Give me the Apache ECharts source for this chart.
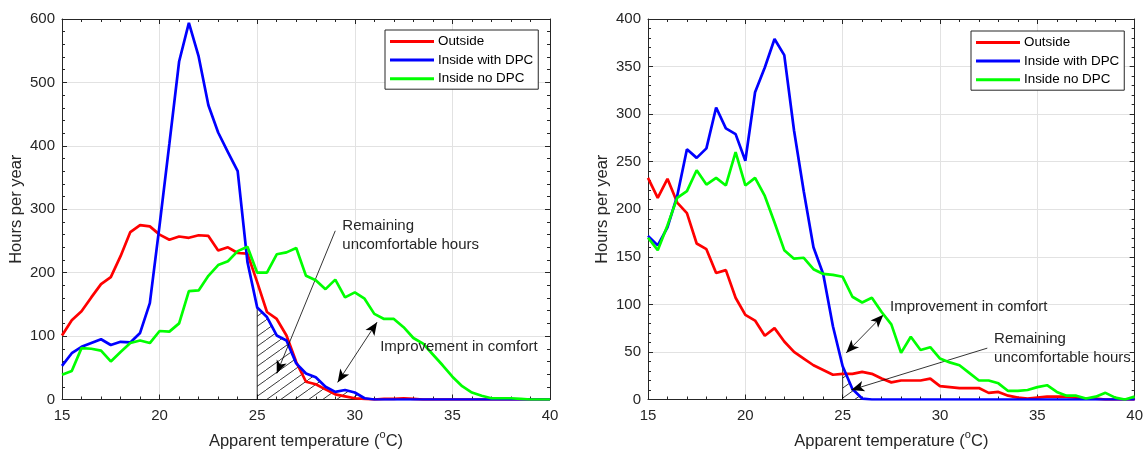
<!DOCTYPE html>
<html><head><meta charset="utf-8">
<script src="https://cdn.jsdelivr.net/npm/echarts@6/dist/echarts.min.js"></script>
<style>html,body{margin:0;padding:0;background:#fff}#c{width:1146px;height:455px}</style>
</head><body><div id="c"></div>
<script>
const temps = [15,15.5,16,16.5,17,17.5,18,18.5,19,19.5,20,20.5,21,21.5,22,22.5,23,23.5,24,24.5,25,25.5,26,26.5,27,27.5,28,28.5,29,29.5,30,30.5,31,31.5,32,32.5,33,33.5,34,34.5,35,35.5,36,36.5,37,37.5,38,38.5,39,39.5,40];

// Left panel
const leftOutside = [101,125,139,161,182,193,226,264,275,273,260,252,257,255,259,258,235,240,231,230,
  185,138,127,101,59,28,24,16,8,5,2,1,
  0,1,1,2,1,0,0,0,0,0,0,0,0,0,0,0,0,0,0];
const leftWithDPC = [53,73,83,89,95,86,91,90,105,152,275,403,533,594,541,464,421,390,360,217,
  145,130,101,93,57,41,35,20,12,15,11,2,
  0,0,0,0,0,0,0,0,0,0,0,0,0,0,0,0,0,0,0];
const leftNoDPC = [39,45,81,80,77,60,75,89,93,89,108,107,120,171,172,195,212,218,234,241,
  200,200,229,232,239,195,188,174,189,161,169,159,135,127,127,114,97,88,71,54,
  36,21,11,6,2,2,2,1,0,0,0];

// Right panel
const rightOutside = [233,212,232,207,196,164,158,133,136,107,89,83,67,75,61,50,43,36,31,26,
  27,27,29,27,22,18,20,20,20,22,14,13,12,12,12,7,8,4,2,1,
  2,3,3,3,2,1,1,0,0,0,0];
const rightWithDPC = [172,162,181,214,263,254,264,307,285,279,251,323,349,379,362,283,219,160,132,77,
  35,11,1,0,0,0,0,0,0,0,0,0,0,0,0,0,0,0,0,0,0,0,0,0,0,0,0,0,0,0,0];
const rightNoDPC = [170,157,183,212,219,241,226,233,225,260,225,233,214,186,157,148,149,137,132,131,
  129,108,102,107,92,79,49,66,52,55,43,39,36,28,20,20,17,9,9,10,
  13,15,8,4,4,1,3,7,2,0,3];

const xTicks = [15,20,25,30,35,40];
const leftYMax = 600, leftYStep = 100;
const rightYMax = 400, rightYStep = 50;
const names = ['Outside','Inside with DPC','Inside no DPC'];
const colors = ['#ff0000','#0000ff','#00ff00'];
const comfortLimit = 25;

// annotations (data coordinates)
const leftRemainingArrow = [[29.0,266],[26.0,41]];
const leftImproveArrow = [[31.14,122],[29.12,27]];
const rightImproveArrow = [[27.09,89],[25.18,49]];
const rightRemainingArrow = [[32.43,54],[25.44,10]];
const leftRemainingText = [29.36,259];
const leftImproveText = [31.3,83];
const rightImproveText = [27.43,97.7];
const rightRemainingText = [32.78,53.5];

const FONT = '"Liberation Sans", Arial, Helvetica, sans-serif';
const TXT = '#262626';

function pairs(vals){ return temps.map((t,i)=>[t, vals[i]]); }
function hatchData(vals){
  const out = [[comfortLimit,0]];
  let last = -1;
  temps.forEach((t,i)=>{ if(t>=comfortLimit){ if(last!==0) out.push([t, vals[i]]); last = vals[i]; } });
  out.push([out[out.length-1][0],0]);
  return out;
}

// hatch pattern
const pc = document.createElement('canvas');
pc.width = 14; pc.height = 10;
const g = pc.getContext('2d');
g.strokeStyle = '#222'; g.lineWidth = 0.9;
g.beginPath(); g.moveTo(-1.4,11); g.lineTo(15.4,-1); g.stroke();

function xAxes(gi){
  const base = {type:'value', gridIndex:gi, min:15, max:40, interval:5,
    axisLine:{show:true, onZero:false, lineStyle:{color:TXT, width:1}},
    axisTick:{show:true, inside:true, length:5, lineStyle:{color:TXT}},
    minorTick:{show:true, splitNumber:5, length:3, lineStyle:{color:TXT}}};
  return [
    Object.assign({}, base, {position:'bottom',
      axisLabel:{show:true, margin:9, fontSize:15, color:TXT, fontFamily:FONT},
      splitLine:{show:true, lineStyle:{color:'#e2e2e2', width:1}},
      name:'{n|Apparent temperature (}{s|o}{n|C)}', nameLocation:'middle', nameGap:30,
      nameTextStyle:{rich:{n:{fontSize:16.5, color:TXT, fontFamily:FONT, lineHeight:24, verticalAlign:'middle'},
        s:{fontSize:11, color:TXT, fontFamily:FONT, verticalAlign:'top', lineHeight:10}}}}),
    Object.assign({}, base, {position:'top', axisLabel:{show:false}, splitLine:{show:false}})
  ];
}
function yAxes(gi, max, step){
  const base = {type:'value', gridIndex:gi, min:0, max:max, interval:step,
    axisLine:{show:true, lineStyle:{color:TXT, width:1}},
    axisTick:{show:true, inside:true, length:5, lineStyle:{color:TXT}},
    minorTick:{show:true, splitNumber:5, length:3, lineStyle:{color:TXT}}};
  return [
    Object.assign({}, base, {position:'left',
      axisLabel:{show:true, margin:7, fontSize:15, color:TXT, fontFamily:FONT},
      splitLine:{show:true, lineStyle:{color:'#e2e2e2', width:1}},
      name:'Hours per year', nameLocation:'middle', nameGap:37, nameRotate:90,
      nameTextStyle:{fontSize:16.5, color:TXT, fontFamily:FONT}}),
    Object.assign({}, base, {position:'right', axisLabel:{show:false}, splitLine:{show:false}})
  ];
}

function arrowLine(pts, both){
  return {silent:true, animation:false, symbol: both?['arrow','arrow']:['none','arrow'], symbolSize:[8,13],
    label:{show:false}, emphasis:{disabled:true},
    lineStyle:{color:'#000', width:0.8, type:'solid'},
    data:[[{coord:pts[0]},{coord:pts[1]}]]};
}

function panelSeries(xi, yi, vals, hatchVals, remArrow, impArrow){
  const s = [{
    type:'line', xAxisIndex:xi, yAxisIndex:yi, data:hatchData(hatchVals), symbol:'none', silent:true,
    lineStyle:{color:'#000', width:0.8}, itemStyle:{color:'#000'},
    areaStyle:{color:{image:pc, repeat:'repeat'}, opacity:1}, z:1,
    markLine: arrowLine(remArrow,false)
  }];
  vals.forEach((v,k)=>{
    const o = {name:names[k], type:'line', xAxisIndex:xi, yAxisIndex:yi, data:pairs(v), symbol:'none',
      lineStyle:{color:colors[k], width:2.7}, itemStyle:{color:colors[k]}, z:3+k};
    if(k===0) o.markLine = arrowLine(impArrow,true);
    s.push(o);
  });
  return s;
}

function legend(left, top){
  return {left:left, top:top, orient:'vertical', backgroundColor:'#fff', borderColor:TXT, borderWidth:1,
    padding:[4,5,3,5], itemWidth:44, itemHeight:3, itemGap:3.6, icon:'rect',
    textStyle:{fontSize:13.4, color:'#000', fontFamily:FONT, lineHeight:15, padding:[0,0,0,-1]},
    data:names, selectedMode:false};
}

const chart = echarts.init(document.getElementById('c'), null, {renderer:'canvas'});
chart.setOption({
  animation:false,
  backgroundColor:'#fff',
  grid:[{left:62, top:19, width:488, height:384},{left:648, top:19, width:488, height:385}],
  xAxis:[...xAxes(0), ...xAxes(1)],
  yAxis:[...yAxes(0,leftYMax,leftYStep), ...yAxes(1,rightYMax,rightYStep)],
  legend:[legend(385,30), legend(971,31)],
  series:[
    ...panelSeries(0,0,[leftOutside,leftWithDPC,leftNoDPC], leftWithDPC, leftRemainingArrow, leftImproveArrow),
    ...panelSeries(2,2,[rightOutside,rightWithDPC,rightNoDPC], rightWithDPC, rightRemainingArrow, rightImproveArrow)
  ]
});

function txt(ax, p, str){
  const px = chart.convertToPixel({xAxisIndex:ax, yAxisIndex:ax}, p);
  return {type:'text', x:px[0], y:px[1], z:50, silent:true,
    style:{text:str, fill:TXT, font:'15px '+FONT, textAlign:'left', textVerticalAlign:'middle', lineHeight:19}};
}
chart.setOption({graphic:[
  txt(0, leftRemainingText, 'Remaining\nuncomfortable hours'),
  txt(0, leftImproveText, 'Improvement in comfort'),
  txt(2, rightImproveText, 'Improvement in comfort'),
  txt(2, rightRemainingText, 'Remaining\nuncomfortable hours')
]});
</script>
</body></html>
